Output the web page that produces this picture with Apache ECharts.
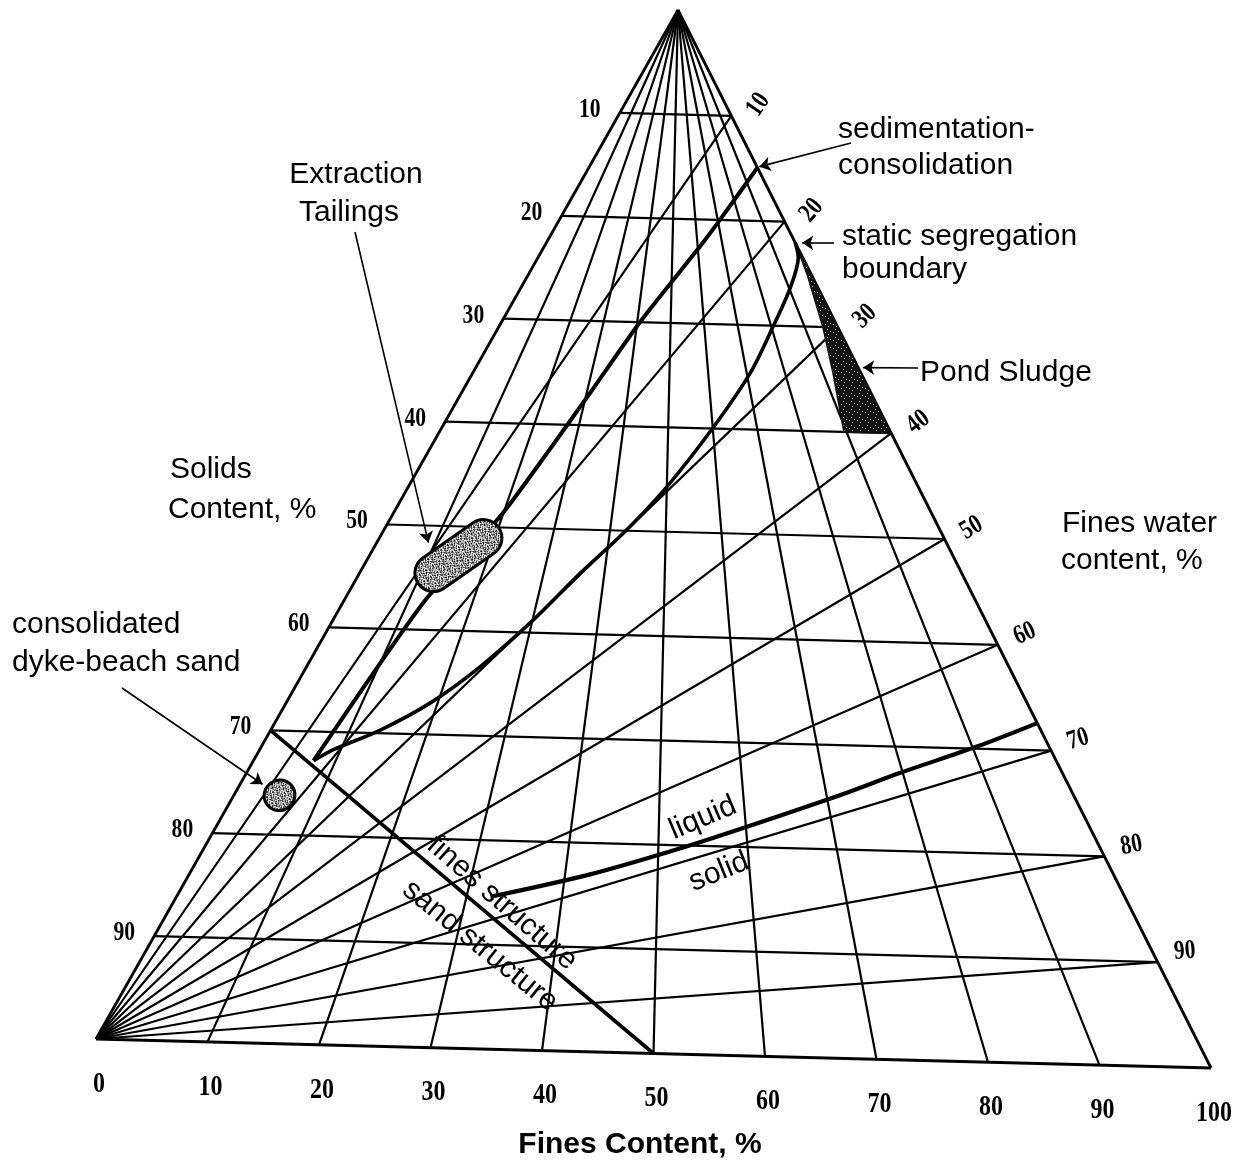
<!DOCTYPE html>
<html>
<head>
<meta charset="utf-8">
<title>Oil sands tailings phase diagram</title>
<style>
  html, body { margin: 0; padding: 0; background: #fff; }
  #chart { width: 1242px; height: 1168px; }
</style>
</head>
<body>
<div id="chart"></div>
<script src="https://cdn.jsdelivr.net/npm/echarts@6.0.0/dist/echarts.min.js"></script>
<script>
// ---- Scales (percent) ----
const SOLIDS_TICKS = [10, 20, 30, 40, 50, 60, 70, 80, 90];                 // solids content: horizontal lines
const FINES_TICKS = [0, 10, 20, 30, 40, 50, 60, 70, 80, 90, 100];          // fines content: lines from the water corner
const FINES_WATER_TICKS = [10, 20, 30, 40, 50, 60, 70, 80, 90];            // fines-water content: lines from the sand corner

// ---- Boundaries, as fines content % / solids content % ----
const SED_CONSOLIDATION_F = [100, 71.0, 60.9, 40.8, 30.0, 19.9, 12.4, 7.3];
const SED_CONSOLIDATION_S = [14.9, 20.0, 22.6, 30.0, 37.6, 48.6, 57.4, 72.8];

const STATIC_SEGREGATION_F = [100, 98.3, 90.5, 80.5, 70.9, 60.1, 50.0, 43.0, 36.0, 30.1, 24.2, 19.0, 13.9, 9.1, 7.3];
const STATIC_SEGREGATION_S = [22.0, 23.4, 26.3, 30.1, 34.6, 39.9, 45.7, 49.9, 54.2, 58.8, 63.4, 67.0, 69.7, 71.7, 72.8];

const LIQUID_SOLID_F = [32.5, 42.7, 52.4, 57.9, 71.6, 79.7, 90.6, 100];
const LIQUID_SOLID_S = [85.4, 83.0, 80.3, 78.7, 74.8, 72.5, 69.8, 67.4];

const STRUCTURE_F = [0, 50];   // fines structure / sand structure divide
const STRUCTURE_S = [70, 100];

const POND_SLUDGE_F = [100, 98.5, 95.5, 92.6, 89.4, 100];
const POND_SLUDGE_S = [22.0, 25.0, 30.0, 34.4, 40.0, 40.0];

const EXTRACTION_TAILINGS = [14.9, 52.8];   // centre: fines %, solids %
const DYKE_BEACH_SAND = [5.3, 76.2];

// ---- Page geometry ----
const W = 1242, H = 1168;
// corners of the triangle: water (top), sand (bottom left), fines (bottom right)
const WATER_CORNER = [678, 10];
const SAND_CORNER = [96, 1039];
const FINES_CORNER = [1211, 1068];

// fines content % and solids content % -> plane coordinates
function tern(fines, solids) {
  const s = solids / 100, f = fines / 100;
  const w = 1 - s, sa = s * (1 - f), fi = s * f;
  return [
    w * WATER_CORNER[0] + sa * SAND_CORNER[0] + fi * FINES_CORNER[0],
    w * WATER_CORNER[1] + sa * SAND_CORNER[1] + fi * FINES_CORNER[1]
  ];
}
function pairs(F, S) { return F.map((f, i) => tern(f, S[i])); }
const deg = d => d * Math.PI / 180;

// ---- Fill textures ----
function makePattern(rows, ink, paper) {
  const n = rows.length;
  const c = document.createElement('canvas');
  c.width = c.height = n;
  const g = c.getContext('2d');
  g.fillStyle = paper; g.fillRect(0, 0, n, n);
  g.fillStyle = ink;
  rows.forEach((r, y) => r.split('').forEach((ch, x) => { if (ch === '#') g.fillRect(x, y, 1, 1); }));
  return { image: c, repeat: 'repeat' };
}
const speckle = makePattern([
  '#.#..#..',
  '..#.##.#',
  '##...#..',
  '.#.##..#',
  '#..#.#..',
  '.##...##',
  '#...#.#.',
  '.#.#...#'
], '#000', '#fff');
const darkSpeckle = makePattern([
  '########',
  '###.####',
  '########',
  '######.#',
  '#.######',
  '########',
  '####.###',
  '########'
], '#151515', '#bdbdbd');

// ---- Grid lines ----
const gridLines = [];
SOLIDS_TICKS.forEach(v => gridLines.push({ coords: [tern(0, v), tern(100, v)] }));
FINES_TICKS.filter(v => v > 0 && v < 100).forEach(v => gridLines.push({ coords: [tern(v, 0), tern(v, 100)] }));
FINES_WATER_TICKS.forEach(v => gridLines.push({ coords: [tern(0, 100), tern(100, v)] }));
const edges = [
  { coords: [tern(0, 0), tern(0, 100)] },
  { coords: [tern(0, 100), tern(100, 100)] },
  { coords: [tern(100, 100), tern(0, 0)] }
];

// ---- Tick labels ----
const tickLabels = [];
SOLIDS_TICKS.forEach(v => {
  const p = tern(0, v);
  tickLabels.push({ pos: [p[0] - 30, p[1] - 3], text: String(v), rot: 0, size: 27 });
});
FINES_WATER_TICKS.forEach(v => {
  const p = tern(100, v);
  const a = Math.atan2(SAND_CORNER[1] - p[1], p[0] - SAND_CORNER[0]);
  tickLabels.push({ pos: [p[0] + 27, p[1] - 11], text: String(v), rot: a, size: 27 });
});
FINES_TICKS.forEach(v => {
  const p = tern(v, 100);
  tickLabels.push({ pos: [p[0] + 3, p[1] + 45], text: String(v), rot: 0, size: 30 });
});

// ---- Stippled zones ----
const blobs = [
  { c: tern(EXTRACTION_TAILINGS[0], EXTRACTION_TAILINGS[1]), len: 98, wid: 37, rot: deg(35) },
  { c: tern(DYKE_BEACH_SAND[0], DYKE_BEACH_SAND[1]), len: 31, wid: 30, rot: deg(40) }
];
const pondPts = pairs(POND_SLUDGE_F, POND_SLUDGE_S);

// ---- Leader arrows ----
const sedStart = tern(SED_CONSOLIDATION_F[0], SED_CONSOLIDATION_S[0]);
const segStart = tern(STATIC_SEGREGATION_F[0], STATIC_SEGREGATION_S[0]);
const pondEdge = tern(100, 33.8);
const arrows = [
  { coords: [[851, 143], [sedStart[0] + 2, sedStart[1] - 1]] },
  { coords: [[834, 243], [segStart[0] + 7, segStart[1]]] },
  { coords: [[918, 368], [pondEdge[0] + 5, pondEdge[1]]] },
  { coords: [[355, 232], [blobs[0].c[0] - 30, blobs[0].c[1] - 13]] },
  { coords: [[122, 688], [blobs[1].c[0] - 17, blobs[1].c[1] - 11]] }
];

const SANS = '"Liberation Sans", Arial, Helvetica, sans-serif';
function note(text, x, y, opts) {
  opts = opts || {};
  const align = opts.align || 'left';
  return {
    type: 'text', x: x, y: y, rotation: opts.rot || 0, silent: true, z: 100,
    style: {
      text: text,
      font: (opts.weight || 'normal') + ' ' + (opts.size || 30) + 'px ' + SANS,
      fill: '#000',
      textAlign: align, align: align,
      textVerticalAlign: 'middle', verticalAlign: 'middle'
    }
  };
}

const chart = echarts.init(document.getElementById('chart'), null, { renderer: 'canvas', width: W, height: H });

chart.setOption({
  animation: false,
  backgroundColor: '#fff',
  grid: { left: 0, right: 0, top: 0, bottom: 0 },
  xAxis: { type: 'value', min: 0, max: W, show: false },
  yAxis: { type: 'value', min: 0, max: H, inverse: true, show: false },
  series: [
    {
      name: 'grid', type: 'lines', coordinateSystem: 'cartesian2d', silent: true, z: 1,
      data: gridLines, lineStyle: { color: '#000', width: 2.2, opacity: 1 }
    },
    {
      name: 'frame', type: 'lines', coordinateSystem: 'cartesian2d', silent: true, z: 2,
      data: edges, lineStyle: { color: '#000', width: 2.8, opacity: 1 }
    },
    {
      name: 'Pond Sludge', type: 'custom', coordinateSystem: 'cartesian2d', silent: true, z: 3,
      data: pondPts,
      renderItem(params, api) {
        if (params.dataIndex !== 0) return { type: 'group', children: [] };
        return {
          type: 'polygon',
          shape: { points: pondPts.map(p => api.coord(p)) },
          style: { fill: darkSpeckle, stroke: '#111', lineWidth: 1.5 }
        };
      }
    },
    {
      name: 'sedimentation-consolidation', type: 'line', silent: true, z: 4,
      data: pairs(SED_CONSOLIDATION_F, SED_CONSOLIDATION_S),
      smooth: 0.2, showSymbol: false, symbol: 'none',
      lineStyle: { color: '#000', width: 4 }
    },
    {
      name: 'static segregation boundary', type: 'line', silent: true, z: 4,
      data: pairs(STATIC_SEGREGATION_F, STATIC_SEGREGATION_S),
      smooth: 0.3, showSymbol: false, symbol: 'none',
      lineStyle: { color: '#000', width: 3.6 }
    },
    {
      name: 'liquid / solid', type: 'line', silent: true, z: 4,
      data: pairs(LIQUID_SOLID_F, LIQUID_SOLID_S),
      smooth: 0.3, showSymbol: false, symbol: 'none',
      lineStyle: { color: '#000', width: 4.2 }
    },
    {
      name: 'fines / sand structure', type: 'line', silent: true, z: 4,
      data: pairs(STRUCTURE_F, STRUCTURE_S),
      showSymbol: false, symbol: 'none',
      lineStyle: { color: '#000', width: 3.6 }
    },
    {
      name: 'tailings zones', type: 'custom', coordinateSystem: 'cartesian2d', silent: true, z: 6,
      data: blobs.map(b => b.c),
      renderItem(params, api) {
        const b = blobs[params.dataIndex];
        const p = api.coord(b.c);
        return {
          type: 'rect', x: p[0], y: p[1], rotation: b.rot,
          shape: { x: -b.len / 2, y: -b.wid / 2, width: b.len, height: b.wid, r: b.wid / 2 },
          style: { fill: speckle, stroke: '#000', lineWidth: 3 }
        };
      }
    },
    {
      name: 'leaders', type: 'lines', coordinateSystem: 'cartesian2d', silent: true, z: 7,
      data: arrows, symbol: ['none', 'arrow'], symbolSize: [0, 11],
      lineStyle: { color: '#000', width: 1.6, opacity: 1 }
    },
    {
      name: 'ticks', type: 'custom', coordinateSystem: 'cartesian2d', silent: true, z: 8,
      data: tickLabels.map(t => t.pos),
      renderItem(params, api) {
        const t = tickLabels[params.dataIndex];
        const p = api.coord(t.pos);
        return {
          type: 'text', x: p[0], y: p[1], rotation: t.rot, scaleX: 0.8,
          style: {
            text: t.text,
            font: 'bold ' + t.size + 'px "Liberation Serif", "Times New Roman", serif',
            fill: '#000',
            textAlign: 'center', align: 'center',
            textVerticalAlign: 'middle', verticalAlign: 'middle'
          }
        };
      }
    }
  ],
  graphic: [
    note('sedimentation-', 838, 130),
    note('consolidation', 838, 166),
    note('Extraction', 356, 175, { align: 'center' }),
    note('Tailings', 349, 213, { align: 'center' }),
    note('static segregation', 842, 237),
    note('boundary', 842, 270),
    note('Pond Sludge', 920, 373),
    note('Solids', 170, 470),
    note('Content, %', 168, 510),
    note('Fines water', 1062, 524),
    note('content, %', 1061, 561),
    note('consolidated', 12, 625),
    note('dyke-beach sand', 12, 663),
    note('Fines Content, %', 640, 1145, { align: 'center', weight: 'bold' }),
    note('liquid', 703, 818, { align: 'center', rot: deg(23) }),
    note('solid', 719, 872, { align: 'center', rot: deg(22) }),
    note('fines structure', 502, 903, { align: 'center', rot: deg(-41) }),
    note('sand structure', 480, 946, { align: 'center', rot: deg(-39) })
  ]
});
</script>
</body>
</html>
